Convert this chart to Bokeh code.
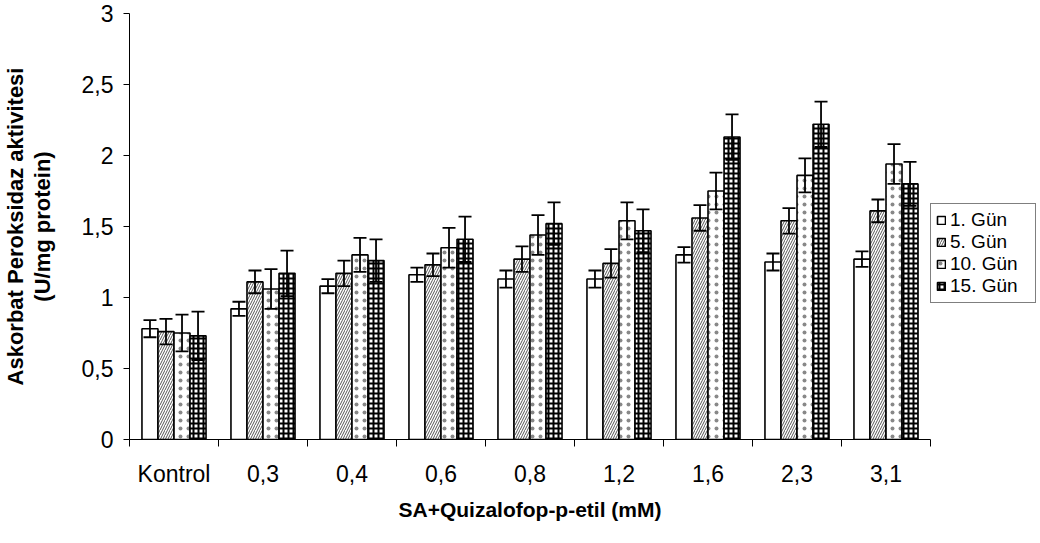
from bokeh.plotting import figure
from bokeh.models import (ColumnDataSource, FixedTicker, Whisker, TeeHead,
                          Legend, LegendItem, Range1d)
from bokeh.embed import file_html
from bokeh.resources import INLINE

categories = ["Kontrol", "0,3", "0,4", "0,6", "0,8", "1,2", "1,6", "2,3", "3,1"]
series_names = ["1. Gün", "5. Gün", "10. Gün", "15. Gün"]
gun1 = [0.78, 0.92, 1.08, 1.16, 1.13, 1.13, 1.30, 1.25, 1.27]
gun5 = [0.76, 1.11, 1.17, 1.23, 1.27, 1.24, 1.56, 1.54, 1.61]
gun10 = [0.75, 1.06, 1.30, 1.35, 1.44, 1.54, 1.75, 1.86, 1.94]
gun15 = [0.73, 1.17, 1.26, 1.41, 1.52, 1.47, 2.13, 2.22, 1.80]
err1 = [0.06, 0.05, 0.05, 0.05, 0.06, 0.06, 0.055, 0.06, 0.055]
err5 = [0.09, 0.08, 0.09, 0.08, 0.09, 0.10, 0.09, 0.09, 0.08]
err10 = [0.13, 0.14, 0.12, 0.14, 0.14, 0.13, 0.13, 0.12, 0.14]
err15 = [0.17, 0.16, 0.15, 0.16, 0.15, 0.15, 0.16, 0.16, 0.155]
y_ticks = [0, 0.5, 1, 1.5, 2, 2.5, 3]
y_tick_labels = ["0", "0,5", "1", "1,5", "2", "2,5", "3"]

values = [gun1, gun5, gun10, gun15]
errors = [err1, err5, err10, err15]

FONT = "Liberation Sans"
BAR_W = 0.18

p = figure(frame_width=801, frame_height=426,
           x_range=Range1d(0, len(categories)), y_range=Range1d(0, 3),
           output_backend="svg", toolbar_location=None,
           min_border_left=117, min_border_top=13, min_border_bottom=0,
           min_border_right=0)
p.outline_line_color = None
p.grid.visible = False
p.background_fill_color = "white"
p.border_fill_color = "white"

styles = [
    dict(),
    dict(hatch_pattern="right_diagonal_line", hatch_scale=5, hatch_weight=1,
         hatch_color="#555555"),
    dict(hatch_pattern="dot", hatch_scale=8, hatch_color="#888888"),
    dict(hatch_pattern="cross", hatch_scale=5, hatch_weight=2,
         hatch_color="black"),
]

items = []
for j, (vals, errs, name, st) in enumerate(zip(values, errors, series_names, styles)):
    xs = [i + 0.5 + (j - 1.5) * BAR_W for i in range(len(categories))]
    src = ColumnDataSource(dict(x=xs, top=vals,
                                upper=[v + e for v, e in zip(vals, errs)],
                                lower=[v - e for v, e in zip(vals, errs)]))
    r = p.vbar(x="x", top="top", bottom=0, width=BAR_W, source=src,
               fill_color="white", line_color="black", line_width=1.6, **st)
    w = Whisker(base="x", upper="upper", lower="lower", source=src,
                line_color="black", line_width=1.8, level="overlay",
                upper_head=TeeHead(size=13, line_width=1.8, line_color="black"),
                lower_head=TeeHead(size=13, line_width=1.8, line_color="black"))
    p.add_layout(w)
    items.append(LegendItem(label=name, renderers=[r]))

legend = Legend(items=items, location=(0, 136), border_line_color="black",
                border_line_width=1, background_fill_color="white",
                padding=5, spacing=-4, margin=1, glyph_width=10, glyph_height=10,
                label_text_font=FONT, label_text_font_size="19px",
                label_text_color="black",
                label_standoff=4, label_height=14, label_width=80)
p.add_layout(legend, "right")

xa = p.xaxis[0]
xa.ticker = FixedTicker(ticks=[i + 0.5 for i in range(len(categories))],
                        minor_ticks=list(range(len(categories) + 1)))
xa.major_label_overrides = {i + 0.5: c for i, c in enumerate(categories)}
xa.major_tick_out = 0
xa.major_tick_in = 0
xa.minor_tick_out = 7
xa.minor_tick_in = 0
xa.minor_tick_line_color = "black"
xa.axis_line_color = "black"
xa.major_label_text_font = FONT
xa.major_label_text_font_size = "23px"
xa.major_label_text_color = "black"
xa.major_label_standoff = 14
xa.axis_label = "SA+Quizalofop-p-etil (mM)"
xa.axis_label_text_font = FONT
xa.axis_label_text_font_size = "21px"
xa.axis_label_text_font_style = "bold"
xa.axis_label_text_color = "black"
xa.axis_label_standoff = 8

ya = p.yaxis[0]
ya.ticker = FixedTicker(ticks=y_ticks, minor_ticks=[])
ya.major_label_overrides = {t: l for t, l in zip(y_ticks, y_tick_labels)}
ya.major_tick_out = 6
ya.major_tick_in = 0
ya.minor_tick_out = 0
ya.minor_tick_in = 0
ya.major_tick_line_color = "black"
ya.axis_line_color = "black"
ya.major_label_text_font = FONT
ya.major_label_text_font_size = "23px"
ya.major_label_text_color = "black"
ya.major_label_standoff = 10
ya.axis_label = "Askorbat Peroksidaz aktivitesi\n(U/mg protein)"
ya.axis_label_text_font = FONT
ya.axis_label_text_font_size = "22px"
ya.axis_label_text_font_style = "bold"
ya.axis_label_text_color = "black"
ya.axis_label_text_line_height = 1.05
ya.axis_label_standoff = 24

open("out.html", "w").write(file_html(p, INLINE))
